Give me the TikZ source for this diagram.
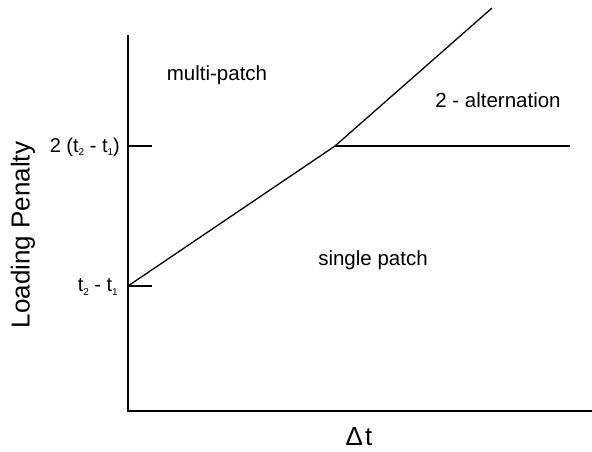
\documentclass[tikz,border=0pt]{standalone}
\usepackage{fontspec}
\setmainfont{Liberation Sans}
\newcommand{\lowsub}[1]{\raisebox{-0.35ex}{\fontsize{10}{12}\selectfont #1}}
\begin{document}
\begin{tikzpicture}[x=1pt,y=-1pt,
  axis/.style={line width=1.8pt,black},
  curve/.style={line width=1.3pt,black},
  region/.style={font=\fontsize{20.5}{24}\selectfont,inner sep=0pt},
  ticklab/.style={font=\fontsize{20}{22}\selectfont,inner sep=0pt,anchor=east}]
\useasboundingbox (0,0) rectangle (592,451);
\coordinate (top) at (128,35);
\coordinate (origin) at (128,411);
\coordinate (xend) at (592,411);
\coordinate (low) at (128,286);
\coordinate (lowtick) at (152,286);
\coordinate (hightick0) at (128,146);
\coordinate (hightick) at (152,146);
\coordinate (knee) at (335,146);
\coordinate (upper) at (492,8);
\coordinate (right) at (570,146);
\draw[axis] (top) -- (origin) -- (xend);
\draw[curve] (hightick0) -- (hightick);
\draw[curve] (low) -- (lowtick);
\draw[curve] (low) -- (knee) -- (upper);
\draw[curve] (knee) -- (right);
\node[region] (mp) at (217,75) {multi-patch};
\node[region] (alt) at (498,100) {2 - alternation};
\node[region] (sp) at (373,260) {single patch};
\node[ticklab] (hl) at (120,147) {2 (t\lowsub{2} - t\lowsub{1})};
\node[ticklab] (ll) at (118,287) {t\lowsub{2} - t\lowsub{1}};
\node[font=\fontsize{26}{30}\selectfont,inner sep=0pt,rotate=90] (yl) at (23,235) {Loading Penalty};
\node[font=\fontsize{26}{30}\selectfont,inner sep=0pt] (xl) at (359,437) {Δ\kern2pt t};
\end{tikzpicture}
\end{document}
